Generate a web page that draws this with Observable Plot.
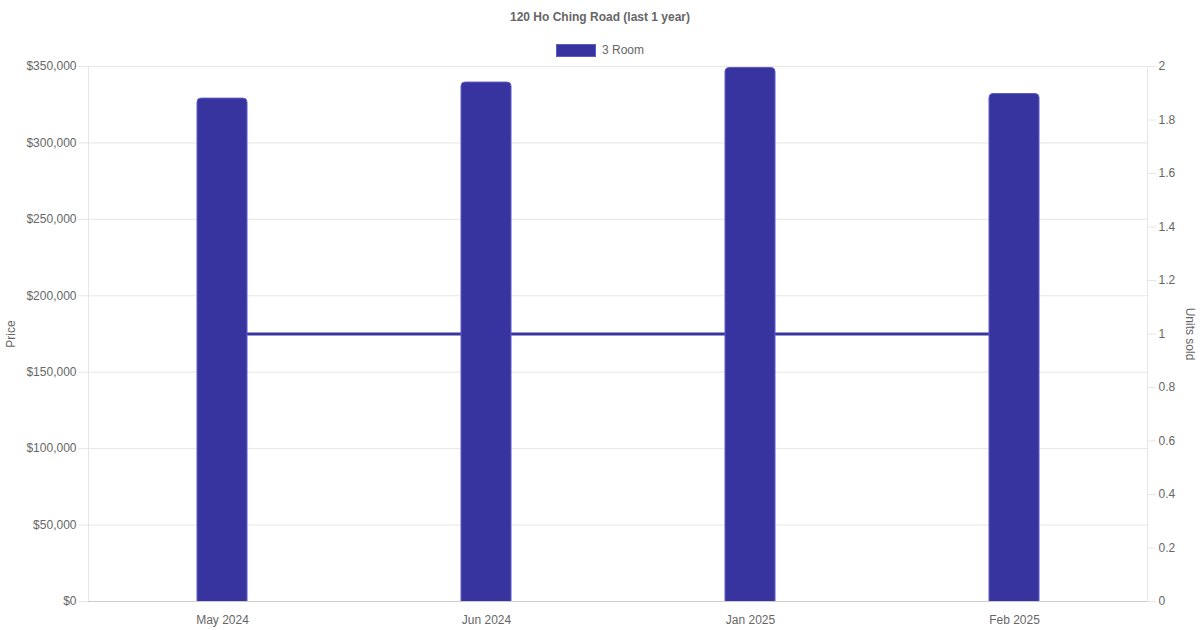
<!DOCTYPE html>
<html>
<head>
<meta charset="utf-8">
<script src="https://cdn.jsdelivr.net/npm/d3@7"></script>
<script src="https://cdn.jsdelivr.net/npm/@observablehq/plot@0.6"></script>
<style>
  html, body { margin: 0; padding: 0; background: #fff; }
  body { width: 1200px; height: 630px; overflow: hidden; font-family: "Liberation Sans", Arial, Helvetica, sans-serif; color: #666; }
  #header { position: relative; height: 60px; }
  #title { position: absolute; left: 0; width: 1200px; top: 9px; text-align: center; font-size: 12px; font-weight: bold; color: #666; line-height: 16px; }
  #legend { position: absolute; left: 556px; top: 43px; height: 14px; display: flex; align-items: center; font-size: 12px; color: #666; }
  #legend .sw { width: 38px; height: 11px; background: #38349f; border: 1px solid #5e5bc6; margin-right: 6px; }
  #chart svg { display: block; }
</style>
</head>
<body>
<div id="header">
  <div id="title">120 Ho Ching Road (last 1 year)</div>
  <div id="legend"><span class="sw"></span><span>3 Room</span></div>
</div>
<div id="chart"></div>
<script>
const months = ["May 2024", "Jun 2024", "Jan 2025", "Feb 2025"];
const prices = [329000, 339500, 349000, 332000];
const units = [1, 1, 1, 1];
const priceTicks = [0, 50000, 100000, 150000, 200000, 250000, 300000, 350000];
const unitTicks = [0, 0.2, 0.4, 0.6, 0.8, 1, 1.2, 1.4, 1.6, 1.8, 2];
const unitMax = 2;
const priceMax = 350000;

const data = months.map((m, i) => ({month: m, price: prices[i], units: units[i]}));
const k = priceMax / unitMax;
const barColor = "#38349f";
const fmtPrice = d3.format("$,");

const chart = Plot.plot({
  width: 1200,
  height: 570,
  marginTop: 6,
  marginBottom: 29,
  marginLeft: 88,
  marginRight: 53,
  style: {fontFamily: "Liberation Sans, Arial, Helvetica, sans-serif", fontSize: "12px", color: "#666", background: "#fff"},
  x: {type: "band", domain: months, paddingInner: 0.811, paddingOuter: 0.4055},
  y: {domain: [0, priceMax]},
  marks: [
    Plot.gridY(priceTicks, {stroke: "#e6e6e6", strokeOpacity: 1}),
    Plot.frame({stroke: "#e6e6e6"}),
    Plot.axisY(priceTicks, {anchor: "left", tickSize: 10, tickPadding: 2, stroke: "#e6e6e6", tickFormat: fmtPrice, label: null, fill: "#666"}),
    Plot.axisY(unitTicks.map(u => u * k), {anchor: "right", tickSize: 8, tickPadding: 3, stroke: "#e6e6e6", tickFormat: d => String(+(d / k).toFixed(1)), label: null, fill: "#666"}),
    Plot.axisX({anchor: "bottom", tickSize: 0, tickPadding: 14, label: null, fill: "#666"}),
    Plot.line(data, {x: "month", y: d => d.units * k, stroke: barColor, strokeWidth: 3}),
    Plot.barY(data, {x: "month", y1: -12000, y2: "price", fill: barColor, stroke: "#5e5bc6", strokeWidth: 1, rx: 4, clip: true}),
    Plot.ruleY([0], {stroke: "#cccccc"}),
    Plot.text(["Price"], {frameAnchor: "left", textAnchor: "middle", dx: -77, rotate: -90, fill: "#666", fontSize: 12}),
    Plot.text(["Units sold"], {frameAnchor: "right", textAnchor: "middle", dx: 42, rotate: 90, fill: "#666", fontSize: 12})
  ]
});
document.getElementById("chart").appendChild(chart);
</script>
</body>
</html>
